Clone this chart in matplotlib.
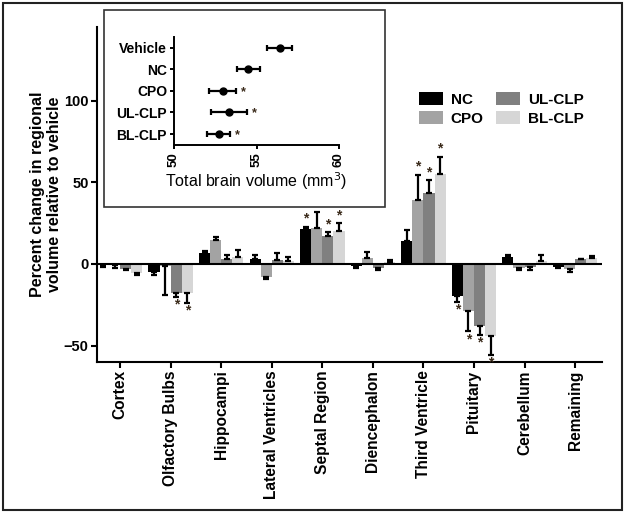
import numpy as np
import matplotlib
matplotlib.use("Agg")
import matplotlib.pyplot as plt
from matplotlib.patches import Rectangle

plt.rcParams["font.family"] = ["Liberation Sans", "DejaVu Sans"]

regions = ["Cortex", "Olfactory Bulbs", "Hippocampi", "Lateral Ventricles",
           "Septal Region", "Diencephalon", "Third Ventricle", "Pituitary",
           "Cerebellum", "Remaining"]
groups = ["NC", "CPO", "UL-CLP", "BL-CLP"]

nc = [-0.7, -4.7, 6.9, 2.8, 21.7, -1.2, 14.0, -19.5, 4.5, -2.0]
nc_err = [1.0, 2.0, 1.2, 2.7, 1.1, 1.2, 6.7, 3.5, 0.8, 0.6]
cpo = [-0.6, -1.0, 14.6, -8.1, 22.2, 3.9, 39.0, -29.0, -2.6, -3.3]
cpo_err = [2.0, 18.0, 1.7, 1.0, 9.8, 3.2, 15.7, 12.3, 1.0, 1.7]
ul = [-3.3, -17.5, 2.8, 2.4, 17.0, -2.2, 43.5, -37.8, -2.0, 2.8]
ul_err = [0.5, 2.5, 2.7, 4.5, 2.7, 1.5, 7.7, 5.5, 1.8, 0.3]
bl = [-5.3, -17.5, 4.3, 1.8, 20.1, 1.0, 55.3, -44.3, 1.8, 3.5]
bl_err = [1.4, 6.1, 4.2, 2.2, 4.7, 1.4, 10.5, 11.2, 3.7, 1.4]

# significance flags per group (1 = asterisk)
nc_sig = [0, 0, 0, 0, 1, 0, 0, 1, 0, 0]
cpo_sig = [0, 0, 0, 0, 1, 0, 1, 1, 0, 0]
ul_sig = [0, 1, 0, 0, 1, 0, 1, 1, 0, 0]
bl_sig = [0, 1, 0, 0, 1, 0, 1, 1, 0, 0]

# inset: total brain volume
tb_labels = ["Vehicle", "NC", "CPO", "UL-CLP", "BL-CLP"]
tb_mean = [56.4, 54.5, 52.95, 53.35, 52.7]
tb_err = [0.75, 0.7, 0.8, 1.1, 0.7]
tb_sig = [0, 0, 1, 1, 1]

colors = ["#000000", "#a3a3a3", "#808080", "#d6d6d6"]

fig = plt.figure(figsize=(6.25, 5.12), dpi=100)
ax = fig.add_axes([0.155, 0.293, 0.808, 0.654])

x = np.arange(len(regions))
w = 0.22
series = [(nc, nc_err, nc_sig), (cpo, cpo_err, cpo_sig),
          (ul, ul_err, ul_sig), (bl, bl_err, bl_sig)]
for i, (vals, errs, sig) in enumerate(series):
    pos = x + (i - 1.5) * w
    vals = np.array(vals)
    errs = np.array(errs)
    ax.bar(pos, vals, w, color=colors[i], label=groups[i], zorder=2)
    lower = np.where(vals < 0, errs, 0)
    upper = np.where(vals >= 0, errs, 0)
    ax.errorbar(pos, vals, yerr=[lower, upper], fmt="none", ecolor="black",
                elinewidth=1.6, capsize=2, capthick=1.6, zorder=3)
    for p, v, e, s in zip(pos, vals, errs, sig):
        if s:
            if v >= 0:
                ax.text(p, v + e + 0.5, "*", ha="center", va="bottom",
                        fontsize=10, fontweight="bold", color="#3a2a1a")
            else:
                ax.text(p, v - e - 0.5, "*", ha="center", va="top",
                        fontsize=10, fontweight="bold", color="#3a2a1a")

ax.axhline(0, color="black", lw=1.5, zorder=4)
ax.set_xlim(-0.46, 9.53)
ax.set_ylim(-60, 145)
ax.set_yticks([-50, 0, 50, 100])
ax.set_xticks(x)
ax.set_xticklabels(regions, rotation=90, fontsize=11.2, fontweight="bold")
for lab in ax.get_yticklabels():
    lab.set_fontweight("bold")
    lab.set_fontsize(10.5)
ax.tick_params(width=1.5, length=4, pad=2)
for side in ["top", "right"]:
    ax.spines[side].set_visible(False)
for side in ["left", "bottom"]:
    ax.spines[side].set_linewidth(1.5)
ax.set_ylabel("Percent change in regional\nvolume relative to vehicle",
              fontsize=11.5, fontweight="bold", labelpad=1)

ax.legend(ncol=2, loc="upper left", bbox_to_anchor=(0.61, 0.847), frameon=False,
          prop={"weight": "bold", "size": 11}, handlelength=1.6,
          handleheight=0.9, columnspacing=0.8, handletextpad=0.5,
          labelspacing=0.3)

# inset box
fig.patches.append(Rectangle((0.1664, 0.5957), 0.4496, 0.385,
                             transform=fig.transFigure, fill=True,
                             facecolor="white", edgecolor="#333333",
                             lw=1.2, zorder=5))
ins = fig.add_axes([0.2784, 0.717, 0.264, 0.211], zorder=6)
ins.patch.set_alpha(0)
yy = np.arange(len(tb_labels))
ins.errorbar(tb_mean, yy, xerr=tb_err, fmt="o", color="black", ms=5,
             elinewidth=1.6, capsize=2.5, capthick=1.6)
for m, e, yv, s in zip(tb_mean, tb_err, yy, tb_sig):
    if s:
        ins.text(m + e + 0.45, yv + 0.05, "*", ha="center", va="center",
                 fontsize=9, fontweight="bold", color="#3a2a1a")
ins.set_ylim(4.5, -0.5)
ins.set_xlim(50, 60)
ins.set_xticks([50, 55, 60])
ins.set_yticks(yy)
ins.set_yticklabels(tb_labels, fontsize=10, fontweight="bold")
ins.set_xticklabels(["50", "55", "60"], rotation=90, fontsize=9.5,
                    fontweight="bold")
ins.tick_params(width=1.4, length=3, pad=2)
for side in ["top", "right"]:
    ins.spines[side].set_visible(False)
for side in ["left", "bottom"]:
    ins.spines[side].set_linewidth(1.4)
ins.set_xlabel("Total brain volume (mm$^3$)", fontsize=11.5, labelpad=3)

# outer frame
fig.patches.append(Rectangle((0.005, 0.004), 0.99, 0.991,
                             transform=fig.transFigure, fill=False,
                             edgecolor="#222222", lw=1.5))

fig.savefig("out.png", dpi=100)
